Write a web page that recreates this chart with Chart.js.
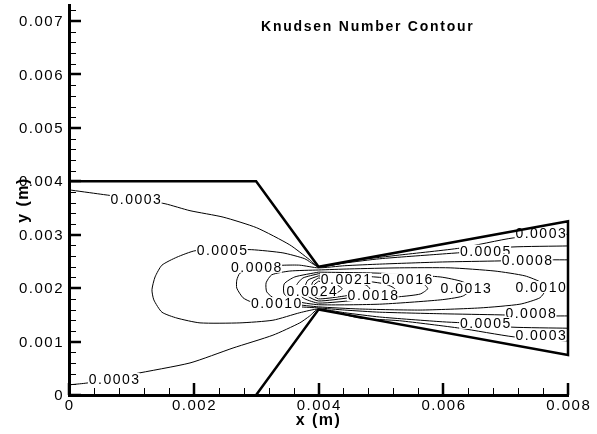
<!DOCTYPE html>
<html>
<head>
<meta charset="utf-8">
<script src="https://cdn.jsdelivr.net/npm/chart.js@4.4.1/dist/chart.umd.min.js"></script>
<style>
  html, body { margin: 0; padding: 0; background: #fff; }
  #wrap { width: 597px; height: 434px; }
</style>
</head>
<body>
<div id="wrap"><canvas id="kn"></canvas></div>
<script>
// nozzle walls (x, y in metres)
const wall = [[0,0.004],[0.003,0.004],[0.004,0.0024],[0.008,0.00325],[0.008,0.00075],[0.004,0.0016],[0.003,0]];

// Knudsen number contour lines, x/y in metres
const kn0003Upper = [[0,0.00384],[0.00050,0.00376],[0.00107,0.00367],[0.00154,0.00358],[0.00194,0.00345],[0.00247,0.00333],
  [0.00301,0.00313],[0.00354,0.00281],[0.00386,0.00253],[0.00400,0.00240],[0.00466,0.00253],[0.00530,0.00262],
  [0.00627,0.00275],[0.00712,0.00294],[0.00800,0.00301]];
const kn0003Lower = [[0,0.00019],[0.00026,0.00022],[0.00072,0.00030],[0.00103,0.00039],[0.00194,0.00060],[0.00263,0.00088],
  [0.00327,0.00112],[0.00370,0.00135],[0.00386,0.00148],[0.00400,0.00161],[0.00466,0.00144],[0.00530,0.00139],
  [0.00627,0.00125],[0.00712,0.00109],[0.00800,0.00101]];
const kn0005 = [[0.00800,0.00279],[0.00710,0.00277],[0.00667,0.00270],[0.00599,0.00264],[0.00498,0.00255],[0.00442,0.00247],
  [0.00400,0.00240],[0.00378,0.00255],[0.00343,0.00266],[0.00293,0.00272],[0.00245,0.00272],[0.00202,0.00270],
  [0.00173,0.00258],[0.00149,0.00243],[0.00138,0.00221],[0.00133,0.00197],[0.00136,0.00178],[0.00149,0.00155],
  [0.00173,0.00144],[0.00210,0.00135],[0.00274,0.00135],[0.00327,0.00140],[0.00370,0.00154],[0.00400,0.00161],
  [0.00442,0.00154],[0.00498,0.00146],[0.00599,0.00137],[0.00667,0.00133],[0.00710,0.00127],[0.00800,0.00125]];
const kn0008 = [[0.00800,0.00253],[0.00734,0.00253],[0.00691,0.00251],[0.00599,0.00249],[0.00498,0.00245],[0.00442,0.00242],
  [0.00400,0.00238],[0.00370,0.00243],[0.00346,0.00243],[0.00300,0.00240],[0.00274,0.00228],[0.00269,0.00215],
  [0.00269,0.00200],[0.00279,0.00182],[0.00293,0.00174],[0.00332,0.00169],[0.00370,0.00165],[0.00400,0.00163],
  [0.00442,0.00159],[0.00498,0.00155],[0.00599,0.00152],[0.00691,0.00150],[0.00740,0.00148],[0.00800,0.00148]];
const kn0010 = [[0.00400,0.00234],[0.00450,0.00236],[0.00530,0.00238],[0.00611,0.00238],[0.00683,0.00232],[0.00731,0.00223],
  [0.00758,0.00210],[0.00764,0.00197],[0.00755,0.00182],[0.00723,0.00170],[0.00659,0.00163],[0.00563,0.00159],
  [0.00466,0.00161],[0.00400,0.00165],[0.00362,0.00170],[0.00330,0.00180],[0.00317,0.00193],[0.00316,0.00210],
  [0.00325,0.00225],[0.00354,0.00232],[0.00400,0.00234]];
const kn0013 = [[0.00400,0.00230],[0.00498,0.00228],[0.00595,0.00221],[0.00631,0.00212],[0.00646,0.00199],[0.00631,0.00185],
  [0.00595,0.00178],[0.00498,0.00170],[0.00400,0.00169],[0.00362,0.00176],[0.00345,0.00189],[0.00345,0.00208],
  [0.00362,0.00221],[0.00400,0.00230]];
const kn0016 = [[0.00400,0.00227],[0.00466,0.00223],[0.00530,0.00217],[0.00566,0.00210],[0.00575,0.00199],[0.00563,0.00189],
  [0.00530,0.00184],[0.00466,0.00178],[0.00400,0.00172],[0.00378,0.00180],[0.00367,0.00191],[0.00365,0.00206],
  [0.00375,0.00219],[0.00400,0.00227]];
const kn0018 = [[0.00400,0.00223],[0.00450,0.00217],[0.00506,0.00208],[0.00522,0.00199],[0.00506,0.00189],[0.00450,0.00182],
  [0.00400,0.00176],[0.00383,0.00185],[0.00378,0.00200],[0.00383,0.00215],[0.00400,0.00223]];
const kn0021 = [[0.00400,0.00219],[0.00442,0.00213],[0.00476,0.00206],[0.00482,0.00199],[0.00470,0.00191],[0.00434,0.00184],
  [0.00400,0.00180],[0.00389,0.00189],[0.00388,0.00200],[0.00391,0.00212],[0.00400,0.00219]];
const kn0024 = [[0.00400,0.00213],[0.00426,0.00208],[0.00438,0.00199],[0.00426,0.00189],[0.00400,0.00185],[0.00393,0.00193],
  [0.00393,0.00206],[0.00400,0.00213]];

// contour labels: text and position
const labelText = ['0.0003','0.0003','0.0005','0.0008','0.0010','0.0024','0.0021','0.0018','0.0016','0.0013',
                   '0.0010','0.0003','0.0005','0.0008','0.0008','0.0005','0.0003'];
const labelX = [0.00107,0.00072,0.00245,0.00300,0.00332,0.00389,0.00444,0.00487,0.00542,0.00636,
                0.00756,0.00756,0.00667,0.00734,0.00740,0.00667,0.00756];
const labelY = [0.00367,0.00030,0.00272,0.00240,0.00172,0.00195,0.00217,0.00187,0.00217,0.00200,
                0.00202,0.00303,0.00270,0.00253,0.00154,0.00135,0.00112];

// axis ticks
const xTicks = [0, 0.002, 0.004, 0.006, 0.008];
const yTicks = [0, 0.001, 0.002, 0.003, 0.004, 0.005, 0.006, 0.007];
const xMinorStep = 0.0004, yMinorStep = 0.0002;

const FONT = '"Liberation Sans", Arial, sans-serif';
const pts = a => a.map(([x, y]) => ({ x, y }));

const contours = [kn0003Upper, kn0003Lower, kn0005, kn0008, kn0010, kn0013, kn0016, kn0018, kn0021, kn0024];

const datasets = [{
  data: pts(wall), showLine: true, pointRadius: 0, borderColor: '#000', borderWidth: 2.5,
  order: 0, clip: false, tension: 0
}].concat(contours.map(c => ({
  data: pts(c), showLine: true, pointRadius: 0, borderColor: '#000', borderWidth: 1,
  order: 1, tension: 0.2
})));

function fmt(v){ return v === 0 ? '0' : v.toFixed(3); }

// labels sit on top of the contour lines, under the walls
const contourLabels = {
  id: 'contourLabels',
  beforeDatasetDraw(chart, args){
    if (args.index !== 0) return;
    const { ctx, scales: { x, y } } = chart;
    ctx.save();
    ctx.font = '14px ' + FONT;
    ctx.letterSpacing = '1.5px';
    ctx.textAlign = 'center';
    ctx.textBaseline = 'middle';
    labelText.forEach((t, i) => {
      const px = x.getPixelForValue(labelX[i]), py = y.getPixelForValue(labelY[i]);
      const w = ctx.measureText(t).width;
      ctx.fillStyle = '#fff';
      ctx.fillRect(px - w / 2, py - 6, w, 12);
      ctx.fillStyle = '#000';
      ctx.fillText(t, px + 0.75, py + 1);
    });
    ctx.restore();
  }
};

// inward ticks, tick labels and titles
const frame = {
  id: 'frame',
  afterDraw(chart){
    const { ctx, chartArea: a, scales: { x, y } } = chart;
    ctx.save();
    ctx.strokeStyle = '#000';
    // minor
    ctx.lineWidth = 1;
    ctx.beginPath();
    for (let v = 0; v <= 0.008 + 1e-9; v += xMinorStep) {
      const px = Math.round(x.getPixelForValue(v)) + 0.5;
      ctx.moveTo(px, a.bottom); ctx.lineTo(px, a.bottom - 7);
    }
    for (let v = 0; v <= 0.0073 + 1e-9; v += yMinorStep) {
      const py = Math.round(y.getPixelForValue(v)) + 0.5;
      ctx.moveTo(a.left, py); ctx.lineTo(a.left + 7, py);
    }
    ctx.stroke();
    // major
    ctx.lineWidth = 2.5;
    ctx.beginPath();
    xTicks.forEach(v => { const px = Math.round(x.getPixelForValue(v)); ctx.moveTo(px, a.bottom); ctx.lineTo(px, a.bottom - 12); });
    yTicks.forEach(v => { const py = Math.round(y.getPixelForValue(v)); ctx.moveTo(a.left, py); ctx.lineTo(a.left + 12, py); });
    ctx.stroke();

    ctx.fillStyle = '#000';
    ctx.font = '15px ' + FONT;
    ctx.letterSpacing = '1.5px';
    ctx.textBaseline = 'middle';
    ctx.textAlign = 'center';
    xTicks.forEach(v => ctx.fillText(fmt(v), x.getPixelForValue(v) + 0.75, a.bottom + 11));
    ctx.textAlign = 'right';
    yTicks.forEach(v => ctx.fillText(fmt(v), a.left - 5, y.getPixelForValue(v) + 1));

    ctx.font = 'bold 16px ' + FONT;
    ctx.textAlign = 'center';
    ctx.fillText('x (m)', (x.getPixelForValue(0.004)), a.bottom + 26);
    ctx.save();
    ctx.translate(24, y.getPixelForValue(0.00365));
    ctx.rotate(-Math.PI / 2);
    ctx.fillText('y (m)', 0, 0);
    ctx.restore();

    ctx.font = 'bold 14px ' + FONT;
    ctx.letterSpacing = '1.75px';
    ctx.fillText('Knudsen Number Contour', x.getPixelForValue(0.00479), y.getPixelForValue(0.00689));
    ctx.restore();
  }
};

new Chart(document.getElementById('kn'), {
  type: 'scatter',
  data: { datasets },
  options: {
    responsive: true,
    maintainAspectRatio: false,
    animation: false,
    devicePixelRatio: 1,
    layout: { padding: { top: 5, right: 29, left: 0, bottom: 0 } },
    plugins: { legend: { display: false }, tooltip: { enabled: false } },
    scales: {
      x: {
        type: 'linear', min: 0, max: 0.008,
        ticks: { display: false },
        grid: { display: true, drawOnChartArea: false, drawTicks: false },
        border: { display: true, width: 3, color: '#000' },
        afterFit(s){ s.height = 39; }
      },
      y: {
        type: 'linear', min: 0, max: 0.0073,
        ticks: { display: false },
        grid: { display: true, drawOnChartArea: false, drawTicks: false },
        border: { display: true, width: 3, color: '#000' },
        afterFit(s){ s.width = 69; }
      }
    }
  },
  plugins: [contourLabels, frame]
});
</script>
</body>
</html>
